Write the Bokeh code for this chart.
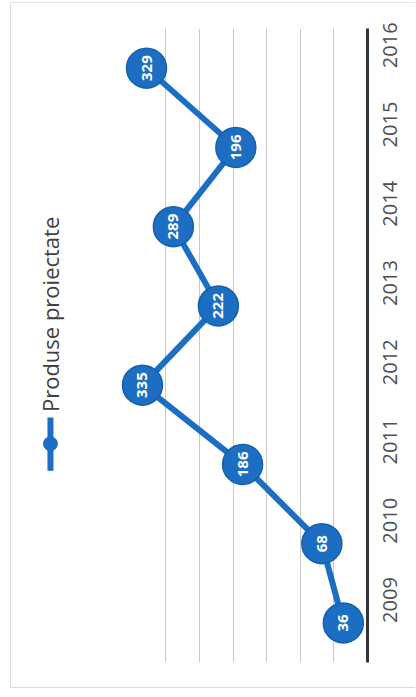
import math
from bokeh.plotting import figure
from bokeh.models import Range1d, FixedTicker, Label, ColumnDataSource
from bokeh.core.properties import value
from bokeh.embed import file_html
from bokeh.resources import INLINE

# ---- data ----
years = ["2009", "2010", "2011", "2012", "2013", "2014", "2015", "2016"]
produse = [36, 68, 186, 335, 222, 289, 196, 329]
series_name = "Produse proiectate"
grid_values = [50, 100, 150, 200, 250, 300]

BLUE = "#1b6ec2"
EDGE = "#1560ac"
FONT = "Open Sans"

idx = list(range(len(years)))
src = ColumnDataSource(dict(v=produse, i=idx, lbl=[str(v) for v in produse]))

p = figure(width=405, height=686, output_backend="svg", toolbar_location=None,
           x_range=Range1d(530, 0), y_range=Range1d(-0.5, len(years) - 0.5),
           y_axis_location="right", x_axis_location=None,
           min_border_left=0, min_border_right=49, min_border_top=25, min_border_bottom=27)
p.styles = {"border-left": "1px solid #dcdcdc", "border-top": "1px solid #e4e4e4",
            "border-bottom": "1px solid #dcdcdc", "margin-left": "10px", "margin-top": "2px"}
p.outline_line_color = None
p.background_fill_color = "white"

# grid
p.xgrid.ticker = FixedTicker(ticks=grid_values)
p.xgrid.grid_line_color = "#c9c9c9"
p.xgrid.grid_line_width = 1
p.ygrid.grid_line_color = None

# category axis (rotated chart: years on the right)
ax = p.yaxis[0]
ax.ticker = FixedTicker(ticks=idx)
ax.major_label_overrides = {i: y for i, y in zip(idx, years)}
ax.major_label_orientation = math.pi / 2
ax.axis_line_color = "#2f3538"
ax.axis_line_width = 3
ax.major_tick_line_color = None
ax.minor_tick_line_color = None
ax.major_tick_out = 0
ax.major_label_standoff = 22
ax.major_label_text_font = FONT
ax.major_label_text_font_size = "20px"
ax.major_label_text_color = "#505050"

# series
p.line(x="v", y="i", source=src, line_color=BLUE, line_width=6)
p.scatter(x="v", y="i", source=src, size=40, fill_color=BLUE, line_color=EDGE, line_width=1.5)
p.text(x="v", y="i", text="lbl", source=src, angle=math.pi / 2,
       text_align="center", text_baseline="middle",
       text_color="white", text_font=value(FONT), text_font_style="bold",
       text_font_size="15px")

# legend (rotated)
lx = 472
p.segment(x0=[lx], y0=[1.92], x1=[lx], y1=[2.59], line_color=BLUE, line_width=6)
p.scatter(x=[lx], y=[2.26], size=14, fill_color=BLUE, line_color=BLUE)
p.add_layout(Label(x=lx, y=2.66, text=series_name, angle=math.pi / 2,
                   text_align="left", text_baseline="middle",
                   text_font=FONT, text_font_size="22px", text_color="#404040"))

open("out.html", "w").write(file_html(p, INLINE))
